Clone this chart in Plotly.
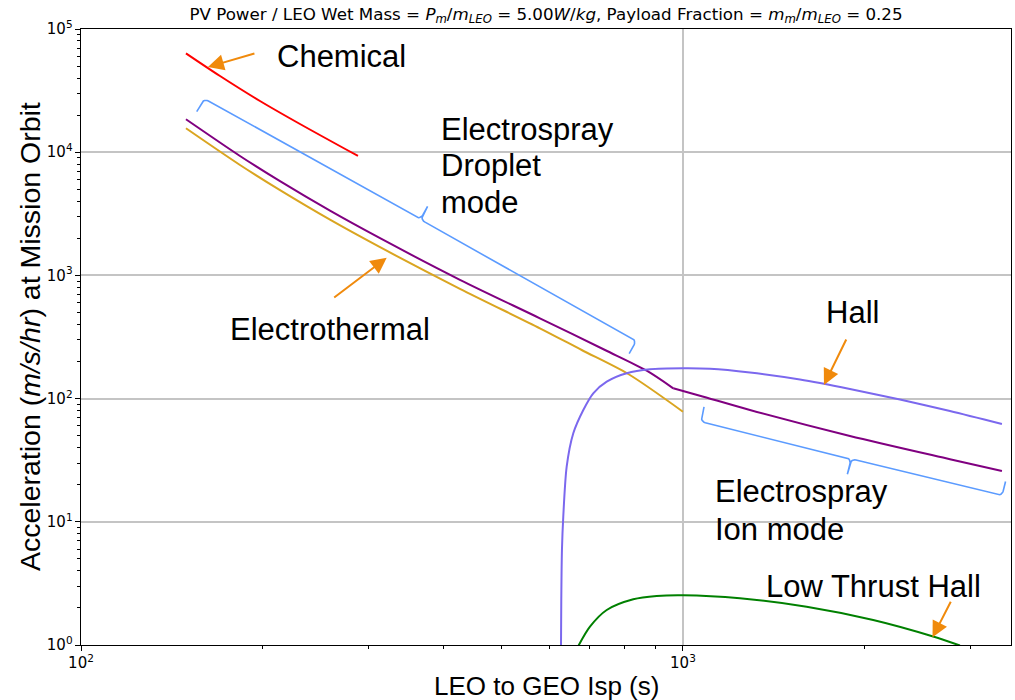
import numpy as np
import plotly.graph_objects as go

# ---------------- data (Isp in s, acceleration in m/s/hr) ----------------
chem_isp = [149.4, 170.2, 198.3, 231.1, 288.5]
chem_acc = [63500, 41550, 26040, 16940, 9316]

# electrospray: droplet branch then ion branch (sharing the transition point)
es_drop_isp = [149.4, 183.7, 214.1, 259.2, 313.9, 426.1, 578.6, 742.2, 870.5, 963.6]
es_drop_acc = [18500, 9315, 5815, 3351, 2004, 921, 448.5, 248, 168.4, 121.2]
es_ion_isp = [963.6, 1067, 1292, 1894, 2777, 3388]
es_ion_acc = [121.2, 105.6, 80.8, 49.7, 32.2, 25.8]

et_isp = [149.4, 183.7, 214.1, 259.2, 313.9, 426.1, 578.6, 678.9, 811.2, 1000]
et_acc = [15630, 7873, 4916, 2832, 1694, 778.5, 372.1, 248, 158.4, 78.3]

hall_isp = [627.2, 627.9, 629.5, 632.7, 641.0, 657.4, 683.1, 709.6, 747.1, 806.3, 881.6, 1001,
            1108.9, 1292, 1564.6, 1894, 2293.5, 2777, 3388]
hall_acc = [0.95, 2.32, 5.9, 11.0, 28.0, 52.3, 80.8, 110.4, 137.1, 160.5, 172.9, 176.2,
            174.6, 162.9, 142.9, 119.7, 98.3, 79.3, 62.2]

lth_isp = [670.0, 700.7, 747.1, 826.9, 904.4, 1001, 1243.6, 1605, 2070.6, 2604, 2885]
lth_acc = [0.98, 1.408, 1.923, 2.349, 2.499, 2.532, 2.393, 2.046, 1.596, 1.172, 0.99]

x_range_log = [2.0, 3.545]
y_range_log = [0.0, 5.0]
tick_alias = {"1": "10<sup>0</sup>", "10": "10<sup>1</sup>"}

# decorative braces: end points in data units
brace_droplet = [(160.1, 27290), (837.2, 296.1)]
brace_ion = [(1069.2, 65.2), (3388, 16.19)]

# arrow heads (data units) and tail offsets (px)
arrows = [
    (162.5, 49150, 48, -14),
    (322.0, 1392, -54, 41),
    (1715, 129, 23, -47),
    (2598, 1.155, 19, -37),
]

# ---------------- helpers ----------------
SX, SY = 602.0, 123.2  # px per decade, used only to shape braces


def brace(p0, p1, side, hook=14.0, r=5.0, tip=15.0, n_arc=7):
    A = np.array([np.log10(p0[0]) * SX, -np.log10(p0[1]) * SY])
    B = np.array([np.log10(p1[0]) * SX, -np.log10(p1[1]) * SY])
    d = (B - A) / np.linalg.norm(B - A)
    n = np.array([d[1], -d[0]]) * side
    M = (A + B) / 2
    pts = [A - n * hook]

    def arc(c, sv, ev):
        for t in np.linspace(0, np.pi / 2, n_arc):
            pts.append(c + np.cos(t) * sv + np.sin(t) * ev)

    arc(A + d * r - n * r, -d * r, n * r)
    arc(M - d * r + n * r, -n * r, d * r)
    pts.append(M + n * tip)
    arc(M + d * r + n * r, -d * r, -n * r)
    arc(B - d * r - n * r, n * r, d * r)
    pts.append(B - n * hook)
    pts = np.array(pts)
    return 10 ** (pts[:, 0] / SX), 10 ** (-pts[:, 1] / SY)


fig = go.Figure()

series = [
    (chem_isp, chem_acc, "red"),
    (et_isp, et_acc, "#DAA520"),
    (es_drop_isp, es_drop_acc, "purple"),
    (es_ion_isp, es_ion_acc, "purple"),
    (hall_isp, hall_acc, "#7B68EE"),
    (lth_isp, lth_acc, "green"),
]
for xs, ys, col in series:
    fig.add_trace(go.Scatter(x=xs, y=ys, mode="lines",
                             line=dict(color=col, width=2, shape="spline", smoothing=0.8),
                             hoverinfo="skip"))

for (p0, p1), side, tip in [(brace_droplet, 1, 15.0), (brace_ion, -1, 16.0)]:
    bx, by = brace(p0, p1, side, hook=15.0, tip=tip)
    fig.add_trace(go.Scatter(x=bx, y=by, mode="lines", line=dict(color="#5B9BFF", width=1.6),
                             hoverinfo="skip"))

ann = []
for hx, hy, ax, ay in arrows:
    ann.append(dict(x=np.log10(hx), y=np.log10(hy), xref="x", yref="y", ax=ax, ay=ay,
                    text="", showarrow=True, arrowhead=2, arrowsize=1.6, arrowwidth=2,
                    arrowcolor="#F08A0C", standoff=0, startstandoff=0))

lab_font = dict(family="Liberation Sans, Arial", size=31, color="black")
labels = [
    ("Chemical", 0.2088, 0.9555),
    ("Electrospray", 0.3846, 0.8365),
    ("Droplet", 0.3846, 0.7776),
    ("mode", 0.3846, 0.7185),
    ("Electrothermal", 0.1581, 0.5114),
    ("Hall", 0.7990, 0.539),
    ("Electrospray", 0.6796, 0.2484),
    ("Ion mode", 0.6796, 0.1883),
    ("Low Thrust Hall", 0.7344, 0.0942),
]
for t, px, py in labels:
    ann.append(dict(text=t, x=px, y=py, xref="paper", yref="paper", xanchor="left",
                    yanchor="middle", align="left", showarrow=False, font=lab_font))

ann.append(dict(text="Acceleration (<i>m/s/hr</i>) at Mission Orbit", x=-0.0548, y=0.5,
                xref="paper", yref="paper", textangle=-90, showarrow=False,
                xanchor="center", yanchor="middle",
                font=dict(family="Liberation Sans, Arial", size=28.5, color="black")))
ann.append(dict(text="LEO to GEO Isp (s)", x=0.5, y=-0.0666, xref="paper", yref="paper",
                showarrow=False, xanchor="center", yanchor="middle",
                font=dict(family="Liberation Sans, Arial", size=26, color="black")))

title_txt = ("PV Power / LEO Wet Mass = <i>P</i><sub><i>m</i></sub>/<i>m</i><sub><i>LEO</i></sub>"
             " = 5.00<i>W</i>/<i>kg</i>, Payload Fraction = <i>m</i><sub><i>m</i></sub>/"
             "<i>m</i><sub><i>LEO</i></sub> = 0.25")

axis_common = dict(type="log", showline=True, linecolor="black", linewidth=1, mirror=True,
                   ticks="outside", ticklen=5, tickcolor="black", dtick=1,
                   exponentformat="power", showexponent="all", labelalias=tick_alias,
                   gridcolor="#c4c4c4", gridwidth=1.6, zeroline=False, automargin=False,
                   tickfont=dict(family="DejaVu Sans", size=12, color="black"),
                   minor=dict(dtick="D1", ticks="outside", ticklen=3, tickcolor="black",
                              showgrid=False))

fig.update_layout(
    width=1015, height=700,
    margin=dict(l=81, r=4, t=29, b=55, autoexpand=False),
    plot_bgcolor="white", paper_bgcolor="white",
    showlegend=False,
    title=dict(text=title_txt, x=0.5, xref="paper", y=0.98, yref="container",
               xanchor="center", yanchor="middle", automargin=False,
               font=dict(family="DejaVu Sans", size=16.7, color="black")),
    xaxis=dict(range=x_range_log, **axis_common),
    yaxis=dict(range=y_range_log, **axis_common),
    annotations=ann,
)
fig.write_html("out.html", config={"displayModeBar": False},
               post_script="document.body.style.margin='0';document.body.style.overflow='hidden';")
